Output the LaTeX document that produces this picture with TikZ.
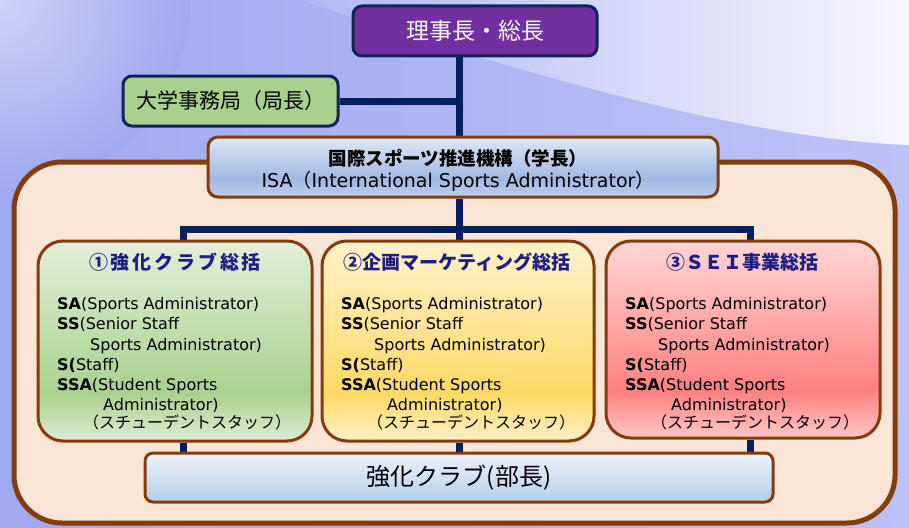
\documentclass[tikz,border=0pt]{standalone}
\usepackage{fontspec}
\setmainfont{DejaVu Sans}
\newfontfamily\jp{Noto Sans CJK JP}
\usetikzlibrary{calc}
\pgfdeclarelayer{bg}
\pgfdeclarelayer{connlayer}
\pgfsetlayers{bg,connlayer,main}
\definecolor{brownb}{RGB}{132,60,12}
\definecolor{navyb}{RGB}{20,35,90}
\definecolor{connc}{RGB}{0,32,96}
\definecolor{peach}{RGB}{251,229,214}
\definecolor{purp}{RGB}{112,48,160}
\definecolor{greenfill}{RGB}{169,209,142}
\definecolor{titlec}{RGB}{30,30,130}
\definecolor{bgl}{RGB}{160,168,240}
\definecolor{bgr}{RGB}{188,194,248}
\definecolor{g0}{RGB}{226,239,218}\definecolor{g1}{RGB}{222,236,212}\definecolor{g2}{RGB}{169,209,142}
\definecolor{y0}{RGB}{255,242,204}\definecolor{y1}{RGB}{255,240,200}\definecolor{y2}{RGB}{255,217,102}
\definecolor{r0}{RGB}{255,214,214}\definecolor{r1}{RGB}{255,200,200}\definecolor{r2}{RGB}{255,128,128}
\definecolor{i0}{RGB}{222,232,246}\definecolor{i1}{RGB}{190,206,236}\definecolor{i2}{RGB}{160,184,226}
\pgfdeclareverticalshading{gshade}{100bp}{color(0bp)=(g1); color(25bp)=(g1); color(37bp)=(g2); color(75bp)=(g0); color(100bp)=(g0)}
\pgfdeclareverticalshading{yshade}{100bp}{color(0bp)=(y1); color(25bp)=(y1); color(37bp)=(y2); color(75bp)=(y0); color(100bp)=(y0)}
\pgfdeclareverticalshading{rshade}{100bp}{color(0bp)=(r1); color(25bp)=(r1); color(37bp)=(r2); color(75bp)=(r0); color(100bp)=(r0)}
\pgfdeclareverticalshading{ishade}{100bp}{color(0bp)=(i1); color(25bp)=(i1); color(40bp)=(i2); color(75bp)=(i0); color(100bp)=(i0)}
\tikzset{
  navybox/.style={draw=navyb, line width=3pt, rounded corners=9pt, inner sep=0pt},
  brownbox/.style={draw=brownb, line width=3pt, inner sep=0pt},
  connline/.style={draw=connc, line width=7pt, line join=miter},
  bodyl/.style={anchor=base west, inner sep=0pt, font=\fontsize{16}{20}\selectfont},
  katal/.style={anchor=base west, inner sep=0pt, font=\jp\fontsize{16}{18}\selectfont},
  titlel/.style={inner sep=0pt, text=titlec, font=\jp\bfseries\fontsize{19}{22}\selectfont},
}
\newcommand\bodyblock[2]{%
  \node[bodyl] (#2a) at (#1,309) {\textbf{SA}(Sports Administrator)};
  \node[bodyl] (#2b) at (#1,329) {\textbf{SS}(Senior Staff};
  \node[bodyl] (#2c) at (#1+33,350) {Sports Administrator)};
  \node[bodyl] (#2d) at (#1,370) {\textbf{S(}Staff)};
  \node[bodyl] (#2e) at (#1,390) {\textbf{SSA}(Student Sports};
  \node[bodyl] (#2f) at (#1+46,410) {Administrator)};
  \node[katal] (#2g) at (#1+26,428) {（スチューデントスタッフ）};
}
\begin{document}
\begin{tikzpicture}[x=1pt,y=-1pt]
\useasboundingbox (0,0) rectangle (909,527);
\begin{pgfonlayer}{bg}
\fill[left color=bgl, right color=bgr] (0,0) rectangle (909,527);
\begin{scope}
\clip (0,0) rectangle (909,527);
\shade[inner color={rgb,255:red,205;green,210;blue,248}, outer color=bgl] (0,0) circle (190);
\shade[left color={rgb,255:red,176;green,183;blue,244}, right color={rgb,255:red,246;green,246;blue,253}]
  (300,0) -- (909,0) -- (909,145) .. controls (780,140) and (600,100) .. (300,0) -- cycle;
\end{scope}
\node[draw=brownb, line width=5pt, fill=peach, rounded corners=48pt, minimum width=881pt, minimum height=361pt, inner sep=0pt] (outer) at (454.5,342.5) {};
\end{pgfonlayer}
% boxes
\node[navybox, fill=purp, minimum width=244pt, minimum height=50pt, text=white, font=\jp\fontsize{23}{26}\selectfont] (top) at (475,31) {理事長・総長};
\node[navybox, fill=greenfill, minimum width=215pt, minimum height=50pt, font=\jp\fontsize{21}{24}\selectfont] (jimu) at (230.5,101) {大学事務局（局長）};
\node[brownbox, rounded corners=10pt, shade, shading=ishade, minimum width=510pt, minimum height=60pt] (isa) at (463,167) {};
\node[inner sep=0pt, font=\jp\bfseries\fontsize{18.5}{20}\selectfont] (isa1) at (458,158) {国際スポーツ推進機構（学長）};
\node[inner sep=0pt, font=\fontsize{19}{22}\selectfont] (isa2) at (458,181) {ISA{\jp （}International Sports Administrator{\jp ）}};
\node[brownbox, rounded corners=25pt, shade, shading=gshade, minimum width=274pt, minimum height=200pt] (b1) at (175,341) {};
\node[brownbox, rounded corners=25pt, shade, shading=yshade, minimum width=272pt, minimum height=200pt] (b2) at (458,341) {};
\node[brownbox, rounded corners=25pt, shade, shading=rshade, minimum width=274pt, minimum height=197pt] (b3) at (743,339.5) {};
\node[titlel] (t1) at (175,262) {\addfontfeature{LetterSpace=15}①強化クラブ総括};
\node[titlel] (t2) at (457,262) {②企画マーケティング総括};
\node[titlel] (t3) at (742,262) {③ＳＥＩ事業総括};
\bodyblock{57}{p}
\bodyblock{341}{q}
\bodyblock{625}{r}
\node[brownbox, rounded corners=8pt, top color={rgb,255:red,238;green,243;blue,250}, bottom color={rgb,255:red,178;green,207;blue,234}, minimum width=628pt, minimum height=49pt, font=\jp\fontsize{24}{28}\selectfont] (club) at (459,477.5) {強化クラブ(部長)};
% connectors
\coordinate (sp) at (459,0);
\coordinate (cl) at (183,229);
\coordinate (cm) at (459,229);
\coordinate (cr) at (750,229);
\begin{pgfonlayer}{connlayer}
\draw[connline] (top.south -| sp) -- (isa.north -| sp);
\draw[connline] (isa.south -| sp) -- (b2.north -| sp);
\draw[connline] (jimu.east) -- (jimu.east -| sp);
\draw[connline] (b1.north -| cl) -- (cl) -- (cr) -- (b3.north -| cr);
\draw[connline] (b1.south -| cl) -- (club.north -| cl);
\draw[connline] (b2.south -| sp) -- (club.north -| sp);
\draw[connline] (b3.south -| cr) -- (club.north -| cr);
\end{pgfonlayer}
\end{tikzpicture}
\end{document}
